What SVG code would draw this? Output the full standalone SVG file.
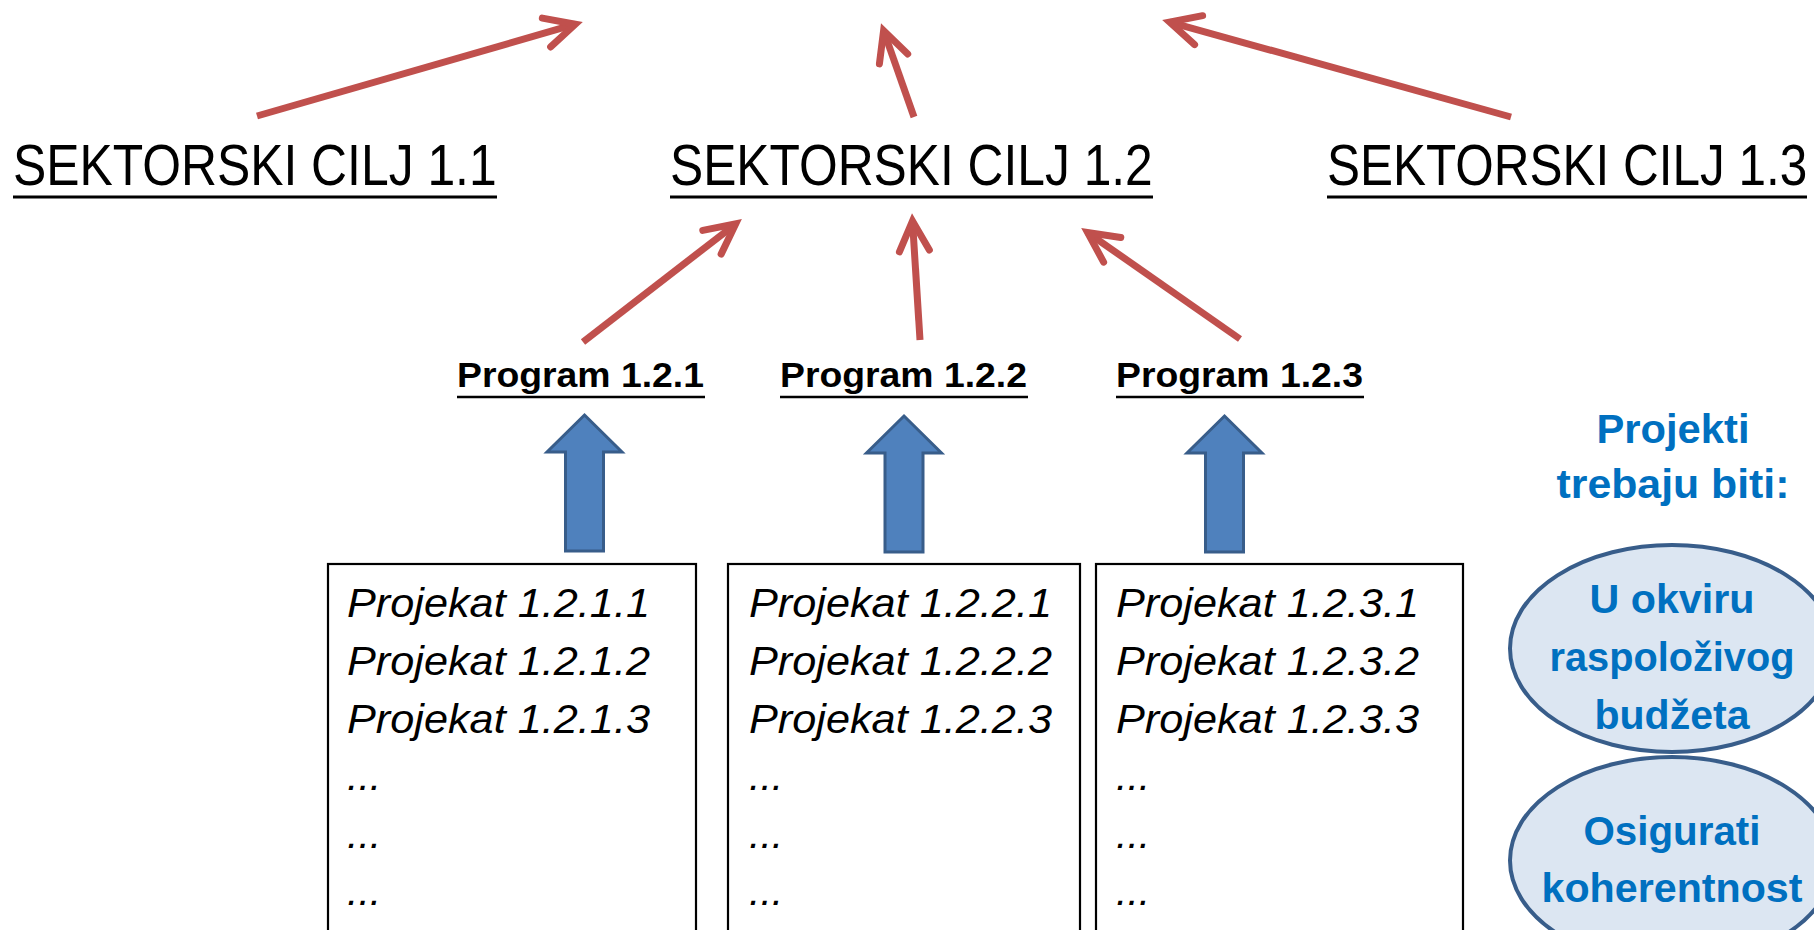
<svg xmlns="http://www.w3.org/2000/svg" width="1814" height="930" viewBox="0 0 1814 930">
<defs>
<style>
.title{font-family:"Liberation Sans",Arial,sans-serif;font-size:57px;fill:#000}
.prog{font-family:"Liberation Sans",Arial,sans-serif;font-size:35px;font-weight:bold;fill:#000}
.proj{font-family:"Liberation Sans",Arial,sans-serif;font-size:41px;font-style:italic;fill:#000}
.blue{font-family:"Liberation Sans",Arial,sans-serif;font-size:40px;font-weight:bold;fill:#0070C0;text-anchor:middle}
.ul{stroke:#000;stroke-width:3}
.ul2{stroke:#000;stroke-width:2.5}
.red{stroke:#C0504D;stroke-width:7;fill:none;stroke-linecap:butt;marker-end:url(#head)}
.box{fill:#fff;stroke:#000;stroke-width:2.2}
.barrow{fill:#4F81BD;stroke:#385D8A;stroke-width:3}
.ell{fill:#DCE6F2;stroke:#385D8A;stroke-width:4}
</style>
<marker id="head" markerUnits="userSpaceOnUse" markerWidth="80" markerHeight="80" viewBox="-40 -40 80 80" refX="0" refY="0" orient="auto" overflow="visible">
<path d="M-30,-15 L0,0 L-30,15" fill="none" stroke="#C0504D" stroke-width="7" stroke-linejoin="miter" stroke-miterlimit="10" stroke-linecap="round"/>
</marker>
<path id="uparrow" d="M0,0 L37.5,37 L19,37 L19,136 L-19,136 L-19,37 L-37.5,37 Z"/>
</defs>
<rect width="1814" height="930" fill="#fff"/>

<g id="connectors">
<line class="red" x1="257" y1="116" x2="575.3" y2="24.2"/>
<line class="red" x1="914" y1="117" x2="883.6" y2="30.6"/>
<line class="red" x1="1511" y1="117" x2="1169.7" y2="22.1"/>
<line class="red" x1="583" y1="342" x2="735.7" y2="223.9"/>
<line class="red" x1="920" y1="340" x2="912.5" y2="221"/>
<line class="red" x1="1240" y1="339" x2="1087.6" y2="232.6"/>
<use href="#uparrow" class="barrow" x="584.5" y="415"/>
<use href="#uparrow" class="barrow" x="904" y="416"/>
<use href="#uparrow" class="barrow" x="1224.5" y="416"/>
</g>

<g id="cilj11">
<text class="title" transform="translate(13,185) scale(0.873,1)" x="0" y="0" textLength="554" lengthAdjust="spacingAndGlyphs">SEKTORSKI CILJ 1.1</text>
<line class="ul" x1="13" y1="197" x2="497" y2="197"/>
</g>
<g id="cilj12">
<text class="title" transform="translate(670,185) scale(0.873,1)" x="0" y="0" textLength="553" lengthAdjust="spacingAndGlyphs">SEKTORSKI CILJ 1.2</text>
<line class="ul" x1="670" y1="197" x2="1153" y2="197"/>
</g>
<g id="cilj13">
<text class="title" transform="translate(1327,185) scale(0.873,1)" x="0" y="0" textLength="550" lengthAdjust="spacingAndGlyphs">SEKTORSKI CILJ 1.3</text>
<line class="ul" x1="1327" y1="197" x2="1807" y2="197"/>
</g>

<g id="program121">
<text class="prog" x="457" y="387" textLength="247" lengthAdjust="spacingAndGlyphs">Program 1.2.1</text>
<line class="ul2" x1="457" y1="397" x2="705" y2="397"/>
</g>
<g id="program122">
<text class="prog" x="780" y="387" textLength="247" lengthAdjust="spacingAndGlyphs">Program 1.2.2</text>
<line class="ul2" x1="780" y1="397" x2="1028" y2="397"/>
</g>
<g id="program123">
<text class="prog" x="1116" y="387" textLength="247" lengthAdjust="spacingAndGlyphs">Program 1.2.3</text>
<line class="ul2" x1="1116" y1="397" x2="1364" y2="397"/>
</g>

<g id="projekti121">
<rect class="box" x="328" y="564" width="368" height="380"/>
<text class="proj" x="347" y="617" textLength="303" lengthAdjust="spacingAndGlyphs">Projekat 1.2.1.1</text>
<text class="proj" x="347" y="675" textLength="303" lengthAdjust="spacingAndGlyphs">Projekat 1.2.1.2</text>
<text class="proj" x="347" y="733" textLength="303" lengthAdjust="spacingAndGlyphs">Projekat 1.2.1.3</text>
<text class="proj" x="347" y="790">...</text>
<text class="proj" x="347" y="848">...</text>
<text class="proj" x="347" y="905">...</text>
</g>
<g id="projekti122">
<rect class="box" x="728" y="564" width="352" height="380"/>
<text class="proj" x="749" y="617" textLength="303" lengthAdjust="spacingAndGlyphs">Projekat 1.2.2.1</text>
<text class="proj" x="749" y="675" textLength="303" lengthAdjust="spacingAndGlyphs">Projekat 1.2.2.2</text>
<text class="proj" x="749" y="733" textLength="303" lengthAdjust="spacingAndGlyphs">Projekat 1.2.2.3</text>
<text class="proj" x="749" y="790">...</text>
<text class="proj" x="749" y="848">...</text>
<text class="proj" x="749" y="905">...</text>
</g>
<g id="projekti123">
<rect class="box" x="1096" y="564" width="367" height="380"/>
<text class="proj" x="1116" y="617" textLength="303" lengthAdjust="spacingAndGlyphs">Projekat 1.2.3.1</text>
<text class="proj" x="1116" y="675" textLength="303" lengthAdjust="spacingAndGlyphs">Projekat 1.2.3.2</text>
<text class="proj" x="1116" y="733" textLength="303" lengthAdjust="spacingAndGlyphs">Projekat 1.2.3.3</text>
<text class="proj" x="1116" y="790">...</text>
<text class="proj" x="1116" y="848">...</text>
<text class="proj" x="1116" y="905">...</text>
</g>

<g id="naslov">
<text class="blue" x="1673" y="443" textLength="153" lengthAdjust="spacingAndGlyphs">Projekti</text>
<text class="blue" x="1673" y="498" textLength="233" lengthAdjust="spacingAndGlyphs">trebaju biti:</text>
</g>
<g id="budzet">
<ellipse class="ell" cx="1672" cy="648.5" rx="162" ry="103.5"/>
<text class="blue" x="1672" y="613" textLength="165" lengthAdjust="spacingAndGlyphs">U okviru</text>
<text class="blue" x="1672" y="671" textLength="245" lengthAdjust="spacingAndGlyphs">raspoloživog</text>
<text class="blue" x="1672" y="729" textLength="155" lengthAdjust="spacingAndGlyphs">budžeta</text>
</g>
<g id="koherentnost">
<ellipse class="ell" cx="1672" cy="860.5" rx="162" ry="103.5"/>
<text class="blue" x="1672" y="845" textLength="177" lengthAdjust="spacingAndGlyphs">Osigurati</text>
<text class="blue" x="1672" y="902" textLength="261" lengthAdjust="spacingAndGlyphs">koherentnost</text>
</g>
</svg>
